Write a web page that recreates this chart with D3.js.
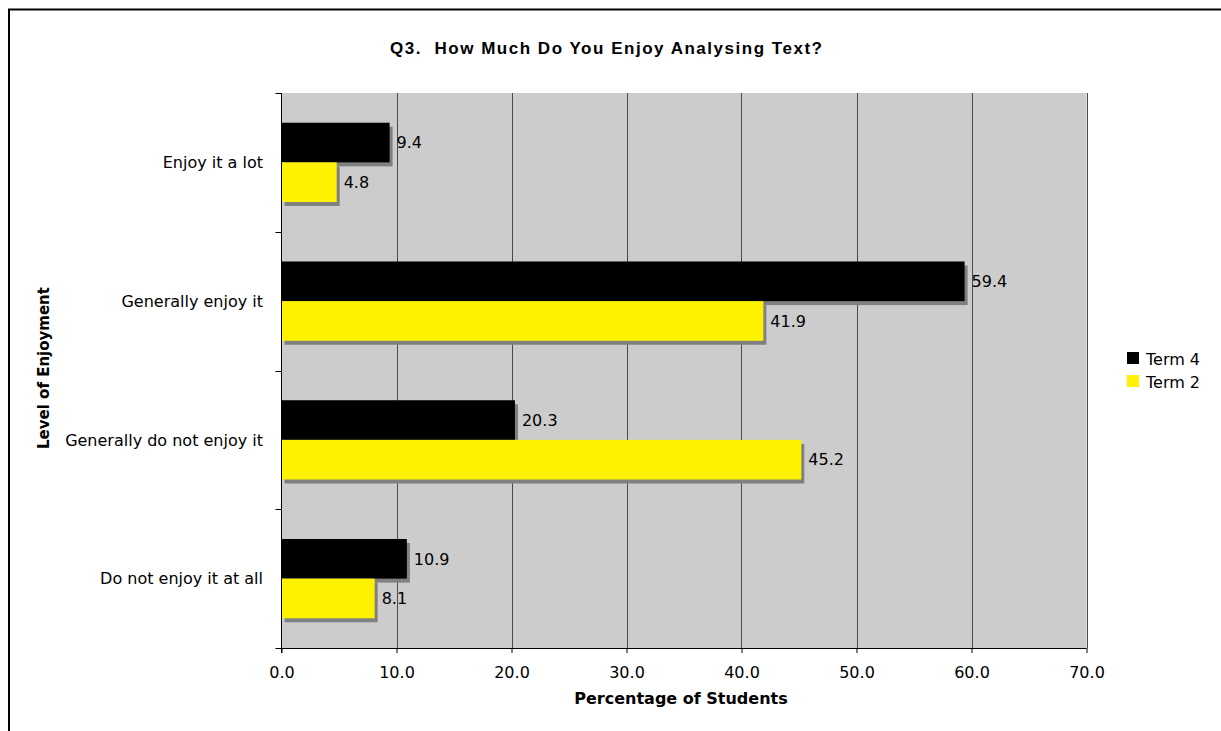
<!DOCTYPE html>
<html>
<head>
<meta charset="utf-8">
<script src="https://cdn.jsdelivr.net/npm/d3@7"></script>
<style>
  html, body { margin: 0; padding: 0; background: #ffffff; }
  svg { display: block; }
</style>
</head>
<body>
<svg id="chart" width="1221" height="731"></svg>
<script>
// Survey responses: percentage of students per enjoyment level
const categories = ["Enjoy it a lot", "Generally enjoy it", "Generally do not enjoy it", "Do not enjoy it at all"];
const seriesNames = ["Term 4", "Term 2"];
const term4 = [9.4, 59.4, 20.3, 10.9];
const term2 = [4.8, 41.9, 45.2, 8.1];
const xTicks = [0, 10, 20, 30, 40, 50, 60, 70];

const colors = { "Term 4": "#000000", "Term 2": "#fff200" };
const seriesValues = { "Term 4": term4, "Term 2": term2 };

const svg = d3.select("#chart");
const plot = { left: 281.5, right: 1086.5, top: 93, bottom: 648 };
const bodyFont = "'DejaVu Sans', Verdana, sans-serif";

// outer frame (runs past the right and bottom edges)
svg.append("rect")
  .attr("x", 9).attr("y", 9.5)
  .attr("width", 1400).attr("height", 1000)
  .attr("fill", "none").attr("stroke", "#000").attr("stroke-width", 2);

const x = d3.scaleLinear().domain([0, 70]).range([plot.left, plot.right]);
const y = d3.scaleBand().domain(categories).range([plot.top, plot.bottom]).padding(0);
const ySub = d3.scaleBand().domain(seriesNames).range([0, y.bandwidth()])
  .paddingInner(0).paddingOuter(0.75);

// plot background
svg.append("rect")
  .attr("x", x(0)).attr("y", plot.top)
  .attr("width", x(70) - x(0)).attr("height", plot.bottom - plot.top)
  .attr("fill", "#cccccc");

// vertical gridlines
svg.append("g").selectAll("line")
  .data(xTicks.filter(t => t > 0))
  .join("line")
  .attr("x1", d => Math.round(x(d)) + 0.5).attr("x2", d => Math.round(x(d)) + 0.5)
  .attr("y1", plot.top).attr("y2", plot.bottom)
  .attr("stroke", "#4a4a4a").attr("stroke-width", 1);

// bars with drop shadows
const rows = [];
categories.forEach((c, i) => {
  seriesNames.forEach(s => rows.push({ cat: c, series: s, value: seriesValues[s][i] }));
});

const barG = svg.append("g");
rows.forEach(r => {
  const by = y(r.cat) + ySub(r.series);
  const bh = ySub.bandwidth();
  barG.append("rect")
    .attr("x", x(0) + 3).attr("y", by + 4)
    .attr("width", x(r.value) - x(0)).attr("height", bh)
    .attr("fill", "#808080");
  barG.append("rect")
    .attr("x", x(0)).attr("y", by)
    .attr("width", x(r.value) - x(0)).attr("height", bh)
    .attr("fill", colors[r.series]);
});

// value labels
svg.append("g").selectAll("text")
  .data(rows)
  .join("text")
  .attr("x", d => x(d.value) + 7)
  .attr("y", d => y(d.cat) + ySub(d.series) + ySub.bandwidth() / 2)
  .attr("dy", "0.36em")
  .attr("font-family", bodyFont).attr("font-size", 16)
  .attr("fill", "#000")
  .text(d => d.value.toFixed(1));

// x axis
const xAxis = d3.axisBottom(x).tickValues(xTicks).tickSize(5).tickPadding(14)
  .tickFormat(d3.format(".1f"));
const gx = svg.append("g").attr("transform", `translate(0,${plot.bottom})`).call(xAxis);
gx.select(".domain").attr("stroke", "#000").attr("d", `M${x(0)},0.5H${x(70)}`);
gx.selectAll(".tick line").attr("stroke", "#000");
gx.selectAll(".tick text").attr("font-family", bodyFont).attr("font-size", 16).attr("fill", "#000");

// y axis: ticks at category boundaries
const yBounds = categories.map(c => y(c)).concat([plot.bottom]);
const gy = svg.append("g");
gy.append("line")
  .attr("x1", x(0)).attr("x2", x(0))
  .attr("y1", plot.top).attr("y2", plot.bottom + 5)
  .attr("stroke", "#000");
gy.selectAll("line.tk").data(yBounds).join("line").attr("class", "tk")
  .attr("x1", x(0) - 6).attr("x2", x(0))
  .attr("y1", d => Math.round(d) + 0.5).attr("y2", d => Math.round(d) + 0.5)
  .attr("stroke", "#000");
gy.selectAll("text").data(categories).join("text")
  .attr("x", 263)
  .attr("y", d => y(d) + y.bandwidth() / 2)
  .attr("dy", "0.36em")
  .attr("text-anchor", "end")
  .attr("font-family", bodyFont).attr("font-size", 16).attr("fill", "#000")
  .text(d => d);

// titles
svg.append("text")
  .attr("x", 606).attr("y", 54)
  .attr("text-anchor", "middle")
  .attr("font-family", "'Liberation Sans', Arial, sans-serif")
  .attr("font-weight", "bold").attr("font-size", 17)
  .attr("textLength", 432).attr("lengthAdjust", "spacing")
  .attr("xml:space", "preserve")
  .text("Q3.  How Much Do You Enjoy Analysing Text?");

svg.append("text")
  .attr("x", (plot.left + plot.right) / 2 - 3).attr("y", 704)
  .attr("text-anchor", "middle")
  .attr("font-family", bodyFont).attr("font-weight", "bold").attr("font-size", 16)
  .text("Percentage of Students");

svg.append("text")
  .attr("transform", "translate(49,368) rotate(-90)")
  .attr("text-anchor", "middle")
  .attr("font-family", bodyFont).attr("font-weight", "bold").attr("font-size", 15)
  .text("Level of Enjoyment");

// legend
const legend = svg.append("g").attr("transform", "translate(1127,352)");
seriesNames.forEach((s, i) => {
  const row = legend.append("g").attr("transform", `translate(0,${i * 23})`);
  row.append("rect").attr("width", 12).attr("height", 12).attr("fill", colors[s]);
  row.append("text").attr("x", 19).attr("y", 12.5)
    .attr("font-family", bodyFont).attr("font-size", 16).attr("fill", "#000")
    .text(s);
});
</script>
</body>
</html>
